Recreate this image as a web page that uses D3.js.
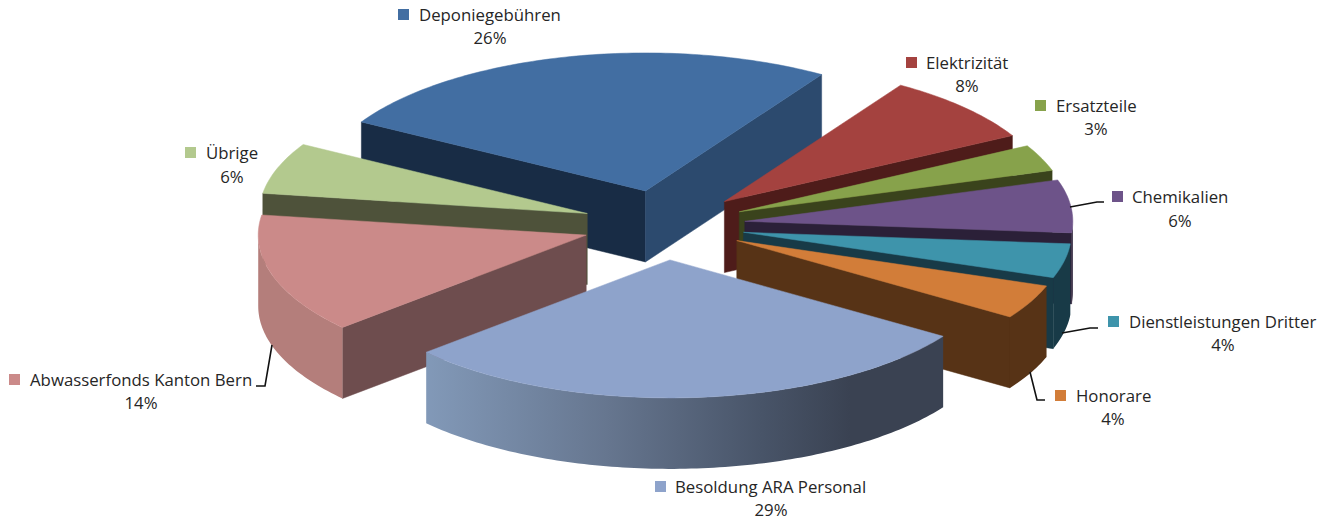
<!DOCTYPE html>
<html><head><meta charset="utf-8">
<script src="https://cdn.jsdelivr.net/npm/d3@7/dist/d3.min.js"></script>
<style>html,body{margin:0;padding:0;background:#fff;overflow:hidden}svg{display:block}
text{font-family:"Open Sans",sans-serif;font-size:16.8px;fill:#262626}</style>
</head><body><svg id="c" width="1335" height="521"></svg>
<script>
const categories=["Deponiegebühren","Elektrizität","Ersatzteile","Chemikalien","Dienstleistungen Dritter","Honorare","Besoldung ARA Personal","Abwasserfonds Kanton Bern","Übrige"];
const values=[26,8,3,6,4,4,29,14,6];
const topColors=["#426ea2","#a4423f","#87a24b","#6d5389","#3e94ab","#d27d39","#8ea3cb","#cb8a89","#b3c98e"];
const endFace=["#2c4a6e","#4e1c1a","#3a431c","#2b2038","#183a47","#573316","#3a4252","#6e4d4e","#4e523a"];
const startFace=["#182c45","#4e1c1a","#3a431c","#2b2038","#183a47","#573316","#3a4252","#6e4d4e","#4e523a"];
const wallColors=[null,null,null,"#2b2038","#183a47","#573316","url(#wall)","#b47e7b",null];
const paintOrder=[0,1,2,3,4,5,8,7,6];
// layout: key x, key y, label x, baseline, percent centre, percent baseline
const labelLayout=[[398,9,419,21,490,44],[906,57,926,69,967,92],[1035,100,1056,112,1096,135],[1112,191,1132,203,1180,227],[1108,316,1129,328,1223,351],[1055,390,1076,402,1113,425],[655,481,675,493,771,516],[9,374,30,386,141,409],[185,147,206,159,232,183]];
const leaders=[null,null,null,[[1070,207],[1097,202],[1104,202]],[[1062,333],[1090,328],[1098,328]],[[1030,372],[1037,400],[1045,400]],null,[[272,345],[265,386],[256,386]],null];

const cx=664,cy=225,rx=328,ry=138,explode=0.25,depth=71;
const svg=d3.select("#c");
const grad=svg.append("defs").append("linearGradient").attr("id","wall");
[["0","#8299b8"],["0.35","#66768f"],["0.65","#485468"],["0.82","#3a4252"],["1","#3a4252"]].forEach(s=>grad.append("stop").attr("offset",s[0]).attr("stop-color",s[1]));

const deg=Math.PI/180;
const arcs=d3.pie().sort(null).startAngle(-60*deg).endAngle(300*deg)(values);
const line=d3.line();
// centre offset of an exploded slice (unwarped ellipse of the pie)
const offset=t=>[cx+325*explode*Math.sin(t),cy-140*explode*Math.cos(t)];
// the rim seen in slight perspective: upper right quadrant leans back a little
const warp=t=>{const u=((t%(2*Math.PI))+2*Math.PI)%(2*Math.PI);return u<Math.PI/2?t-1.2*deg*Math.sin(2*u):t;};
const rim=(o,t,dz=0)=>{const w=warp(t);return [o[0]+rx*Math.sin(w),o[1]-ry*Math.cos(w)+dz];};
function arcPts(o,a,b,dz){const n=Math.max(2,Math.ceil((b-a)/(1*deg)));return d3.range(n+1).map(i=>rim(o,a+(b-a)*i/n,dz));}
const g=svg.append("g");
const shape=(parent,pts,col)=>parent.append("path").attr("d",line(pts)+"Z").attr("fill",col).attr("stroke",col).attr("stroke-width",0.5);
paintOrder.forEach(i=>{
  const d=arcs[i],s=d.startAngle,e=d.endAngle,mid=(s+e)/2;
  const o=offset(mid);
  const lo=[o[0],o[1]+depth];
  const gs=g.append("g");
  const face=(t,col)=>{const p=rim(o,t);shape(gs,[o,p,[p[0],p[1]+depth],lo],col);};
  if(Math.sin(s)<0)face(s,startFace[i]);
  if(Math.sin(e)>0)face(e,endFace[i]);
  // outer wall: the part of the rim that faces the viewer
  const a=Math.max(s,90*deg),b=Math.min(e,270*deg);
  if(b>a&&wallColors[i]){
    const up=arcPts(o,a,b,0),dn=arcPts(o,a,b,depth).reverse();
    gs.append("path").attr("d",line(up.concat(dn))+"Z").attr("fill",wallColors[i]);
  }
  shape(gs,[o].concat(arcPts(o,s,e,0)),topColors[i]);
});
leaders.forEach(l=>{if(l)svg.append("path").attr("d",line(l)).attr("fill","none").attr("stroke","#111").attr("stroke-width",1.6);});
const fmt=d3.format(".0%"),total=d3.sum(values);
categories.forEach((c,i)=>{
  const L=labelLayout[i];
  svg.append("rect").attr("x",L[0]).attr("y",L[1]).attr("width",11).attr("height",11).attr("fill",topColors[i]);
  svg.append("text").attr("x",L[2]).attr("y",L[3]).text(c);
  svg.append("text").attr("x",L[4]).attr("y",L[5]).attr("text-anchor","middle").text(fmt(values[i]/total));
});
</script></body></html>
